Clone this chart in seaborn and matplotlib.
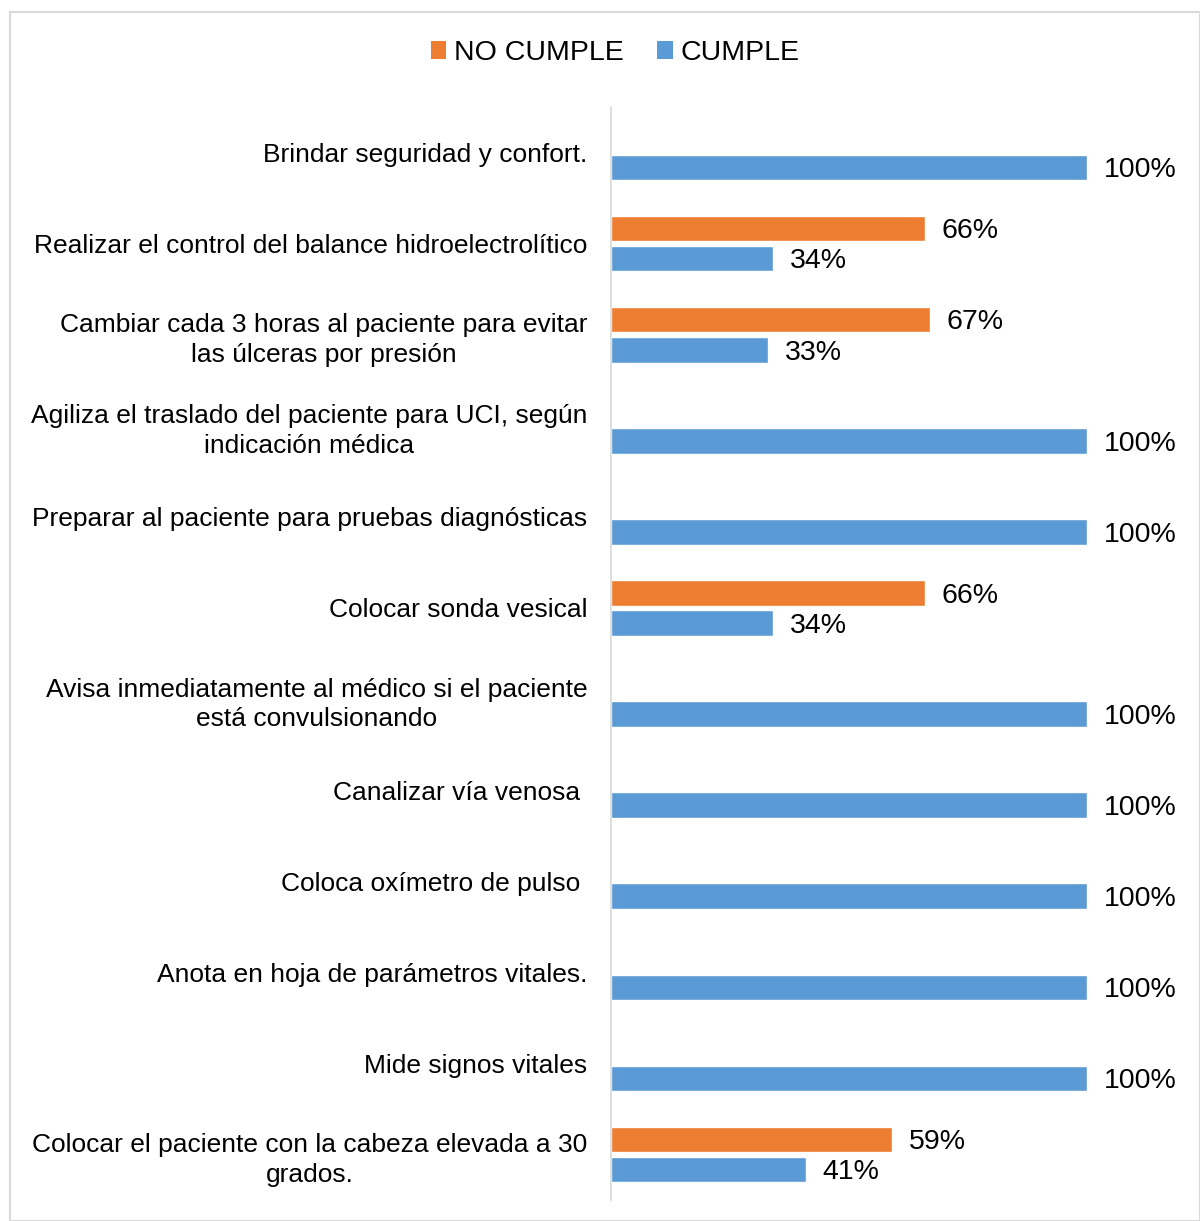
import matplotlib
matplotlib.use("Agg")
import matplotlib.pyplot as plt
import seaborn as sns
import pandas as pd
from matplotlib.patches import Rectangle, Patch

categories = [
    "Brindar seguridad y confort.",
    "Realizar el control del balance hidroelectrolítico",
    "Cambiar cada 3 horas al paciente para evitar\nlas úlceras por presión",
    "Agiliza el traslado del paciente para UCI, según\nindicación médica",
    "Preparar al paciente para pruebas diagnósticas",
    "Colocar sonda vesical",
    "Avisa inmediatamente al médico si el paciente\nestá convulsionando",
    "Canalizar vía venosa ",
    "Coloca oxímetro de pulso ",
    "Anota en hoja de parámetros vitales.",
    "Mide signos vitales",
    "Colocar el paciente con la cabeza elevada a 30\ngrados.",
]
no_cumple = [0, 66, 67, 0, 0, 66, 0, 0, 0, 0, 0, 59]
cumple = [100, 34, 33, 100, 100, 34, 100, 100, 100, 100, 100, 41]
series = ["NO CUMPLE", "CUMPLE"]
colors = {"NO CUMPLE": "#ED7D31", "CUMPLE": "#5B9BD5"}

df = pd.DataFrame({
    "cat": categories * 2,
    "serie": [series[0]] * len(categories) + [series[1]] * len(categories),
    "val": no_cumple + cumple,
})

sns.set_theme(style="white")
plt.rcParams["font.family"] = ["Liberation Sans", "DejaVu Sans"]

W, H = 1200, 1221
fig = plt.figure(figsize=(W / 100, H / 100), dpi=100)
ax = fig.add_axes([611 / W, 21 / H, (1087 - 611) / W, (1200 - 107) / H])

sns.barplot(data=df, y="cat", x="val", hue="serie", hue_order=series,
            order=categories, palette=colors, orient="h", width=0.66,
            gap=0.15, ax=ax, legend=False, saturation=1)

ax.set_xlim(0, 100)
ax.set_ylim(len(categories) - 0.5, -0.5)
ax.set_xlabel("")
ax.set_ylabel("")
ax.set_xticks([])
for s in ["top", "right", "bottom"]:
    ax.spines[s].set_visible(False)
ax.spines["left"].set_color("#d9d9d9")
ax.spines["left"].set_linewidth(1.2)
ax.set_yticks(range(len(categories)))
ax.set_yticklabels(categories, multialignment="center", linespacing=1.3,
                   fontsize=19, color="black")
ax.tick_params(axis="y", length=0, pad=17)

for cont in ax.containers:
    for b in cont:
        w = b.get_width()
        if w > 0:
            ax.annotate(f"{int(round(w))}%", (w, b.get_y() + b.get_height() / 2),
                        xytext=(12, -2), textcoords="offset points",
                        ha="left", va="center", fontsize=20.5, color="black",
                        annotation_clip=False)

handles = [Patch(facecolor=colors[s], edgecolor="none") for s in series]
fig.legend(handles, series, loc="center", bbox_to_anchor=(615 / W, 1 - 53 / H),
           ncol=2, frameon=False, fontsize=20.5, handlelength=0.55, handleheight=0.55,
           handletextpad=0.25, columnspacing=1.2, labelcolor="black")

fig.patches.append(Rectangle((10 / W, 0), 1 - 10 / W, 1 - 12 / H, transform=fig.transFigure,
                             fill=False, edgecolor="#d9d9d9", linewidth=1.5))

fig.savefig("out.png", dpi=100, facecolor="white")
